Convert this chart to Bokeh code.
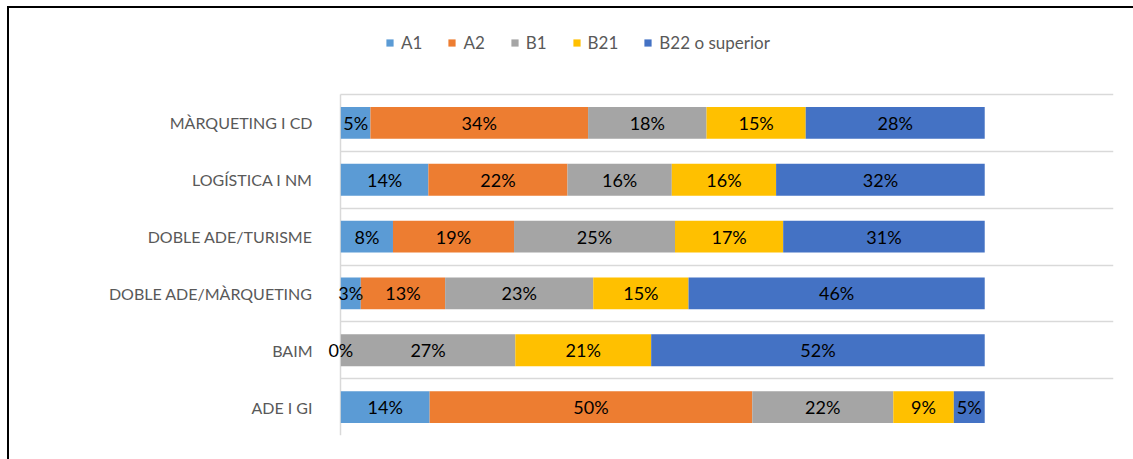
from bokeh.plotting import figure
from bokeh.models import ColumnDataSource, Range1d, FixedTicker, Legend
from bokeh.core.properties import value
from bokeh.embed import file_html
from bokeh.resources import INLINE

# Data (percent), listed bottom -> top
categories = ["ADE I GI", "BAIM", "DOBLE ADE/MÀRQUETING", "DOBLE ADE/TURISME",
              "LOGÍSTICA I NM", "MÀRQUETING I CD"]
series = ["A1", "A2", "B1", "B21", "B22 o superior"]
a1 = [13.8, 0.0, 3.1, 8.1, 13.6, 4.6]
a2 = [50.1, 0.0, 13.1, 18.8, 21.6, 33.8]
b1 = [21.9, 27.1, 23.0, 25.0, 16.2, 18.4]
b21 = [9.4, 21.1, 14.8, 16.8, 16.2, 15.4]
b22 = [4.8, 51.8, 46.0, 31.3, 32.4, 27.8]
colors = ["#5B9BD5", "#ED7D31", "#A5A5A5", "#FFC000", "#4472C4"]

cols = [a1, a2, b1, b21, b22]
n = len(categories)
ypos = [i + 0.5 for i in range(n)]
data = {"y": ypos}
for s, c in zip(series, cols):
    data[s] = c
src = ColumnDataSource(data)

# frame: top at figure y=10, category block occupies bottom 341 px
top_extra = 76 / (341 / n)
p = figure(width=1124, height=451, output_backend="svg", toolbar_location=None,
           x_range=Range1d(-3, 120), y_range=Range1d(0, n + top_extra),
           min_border_left=312, min_border_right=20, min_border_top=10,
           min_border_bottom=24)
p.styles = {"outline": "2px solid black", "margin-left": "9px", "margin-top": "8px"}
p.outline_line_color = None

rs = p.hbar_stack(series, y="y", height=0.56, color=colors, source=src,
                  line_color=None)

# data labels
lx, ly, lt = [], [], []
for j in range(n):
    left = 0.0
    for k, c in enumerate(cols):
        v = c[j]
        if v > 0 or k == 0:
            lx.append(left + v / 2)
            ly.append(ypos[j])
            lt.append(f"{round(v):d}%")
        left += v
p.text(x=lx, y=ly, text=lt, text_font=value("Lato"), text_font_size="18px",
       text_color="black", text_align="center", text_baseline="middle")

# axes
p.xaxis.visible = False
p.xgrid.ticker = FixedTicker(ticks=[0])
p.xgrid.grid_line_color = "#D9D9D9"
p.xgrid.grid_line_width = 1.5
p.xgrid.cross_bounds = (0, n)
ya = p.yaxis[0]
ya.ticker = FixedTicker(ticks=ypos)
ya.major_label_overrides = {y: c for y, c in zip(ypos, categories)}
ya.major_tick_line_color = None
ya.minor_tick_line_color = None
ya.axis_line_color = None
ya.major_label_text_font = "Lato"
ya.major_label_text_font_size = "16px"
ya.major_label_text_color = "#595959"
ya.major_label_standoff = 3
p.ygrid.ticker = FixedTicker(ticks=list(range(n + 1)))
p.ygrid.grid_line_color = "#D9D9D9"
p.ygrid.grid_line_width = 1.5
p.ygrid.cross_bounds = (0, 120)

legend = Legend(items=[(s, [r]) for s, r in zip(series, rs)],
                orientation="horizontal", location=(64, 382),
                glyph_width=9, glyph_height=9, label_standoff=7, spacing=25,
                padding=0, margin=0, border_line_color=None,
                background_fill_alpha=0,
                label_text_font="Lato", label_text_font_size="17px",
                label_text_color="#595959")
p.add_layout(legend, "center")

open("out.html", "w").write(file_html(p, INLINE))
